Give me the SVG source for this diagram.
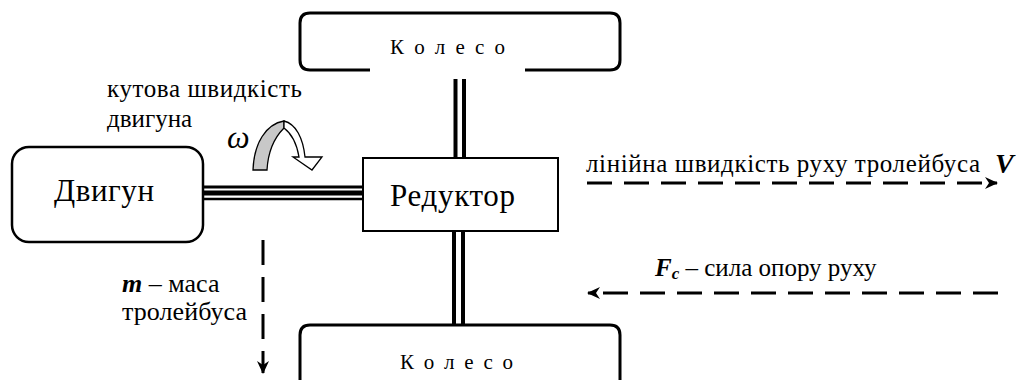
<svg xmlns="http://www.w3.org/2000/svg" width="1022" height="380" viewBox="0 0 1022 380">
<defs>
<marker id="ah" markerUnits="userSpaceOnUse" markerWidth="14" markerHeight="12" refX="12" refY="6" orient="auto">
<path d="M0,0 L13,6 L0,12 L4,6 Z" fill="#000"/>
</marker>
</defs>
<rect width="1022" height="380" fill="#fff"/>
<g id="connectors" stroke="#000" fill="none">
<line x1="203" y1="187" x2="363" y2="187" stroke-width="3"/>
<line x1="203" y1="193" x2="363" y2="193" stroke-width="5"/>
<line x1="203" y1="199" x2="363" y2="199" stroke-width="2.5"/>
<line x1="455.5" y1="79" x2="455.5" y2="158" stroke-width="4"/>
<line x1="464" y1="79" x2="464" y2="158" stroke-width="4"/>
<line x1="454" y1="231" x2="454" y2="325" stroke-width="4"/>
<line x1="463" y1="231" x2="463" y2="325" stroke-width="4"/>
<g stroke-width="3" stroke-dasharray="25 12">
<line x1="587" y1="183" x2="997" y2="183" marker-end="url(#ah)"/>
<line x1="998" y1="293" x2="588" y2="293" marker-end="url(#ah)"/>
<line x1="263" y1="240" x2="263" y2="373" marker-end="url(#ah)"/>
</g>
</g>
<g font-family="'Liberation Serif', 'Noto Sans CJK SC', serif" fill="#000">
<g id="wheel-top">
<path fill="none" stroke="#000" stroke-width="3" d="M370,70 L310,70 Q300,70 300,60 L300,23 Q300,13 310,13 L610,13 Q620,13 620,23 L620,60 Q620,70 610,70 L525,70"/>
<text x="390" y="54" font-size="21" textLength="115">К о л е с о</text>
</g>
<g id="wheel-bottom">
<path fill="none" stroke="#000" stroke-width="3" d="M300,395 L300,335 Q300,325 310,325 L610,325 Q620,325 620,335 L620,395"/>
<text x="400" y="369" font-size="21" textLength="113">К о л е с о</text>
</g>
<g id="motor">
<rect x="12" y="147" width="191" height="95" rx="17" fill="none" stroke="#000" stroke-width="2.5"/>
<text x="54" y="201" font-size="31" textLength="100">Двигун</text>
</g>
<g id="reducer">
<rect x="363" y="158" width="195" height="73" fill="#fff" stroke="#000" stroke-width="2"/>
<text x="390" y="206" font-size="31" textLength="125">Редуктор</text>
</g>
<g id="angular-speed">
<text x="107" y="97" font-size="25" textLength="195">кутова  швидкість</text>
<text x="107" y="127" font-size="25">двигуна</text>
<text x="227" y="148" font-size="32" font-style="italic">ω</text>
<path d="M253,170 L267,170 C268,152 274,138 284,128 L284,121 C266,124 254,143 253,170 Z" fill="#c8c8c8" stroke="#000" stroke-width="1.3"/>
<path d="M284,121 C296,124 303,138 305,157 L322,157 L312,170 L293,157 L299,157 C297,145 292,134 284,128 Z" fill="#fff" stroke="#000" stroke-width="1.3"/>
</g>
<g id="velocity">
<text x="586" y="172" font-size="25" textLength="394">лінійна швидкість руху  тролейбуса</text>
<text x="995" y="173" font-size="28" font-weight="bold" font-style="italic">V</text>
</g>
<g id="resistance">
<text x="655" y="276" font-size="25"><tspan font-weight="bold" font-style="italic">F</tspan><tspan font-weight="bold" font-style="italic" font-size="17" dy="3">c</tspan><tspan dy="-3"> – сила опору руху</tspan></text>
</g>
<g id="mass">
<text x="122" y="292" font-size="26"><tspan font-weight="bold" font-style="italic">m</tspan> – маса</text>
<text x="122" y="320" font-size="26" textLength="125">тролейбуса</text>
</g>
</g>
</svg>
